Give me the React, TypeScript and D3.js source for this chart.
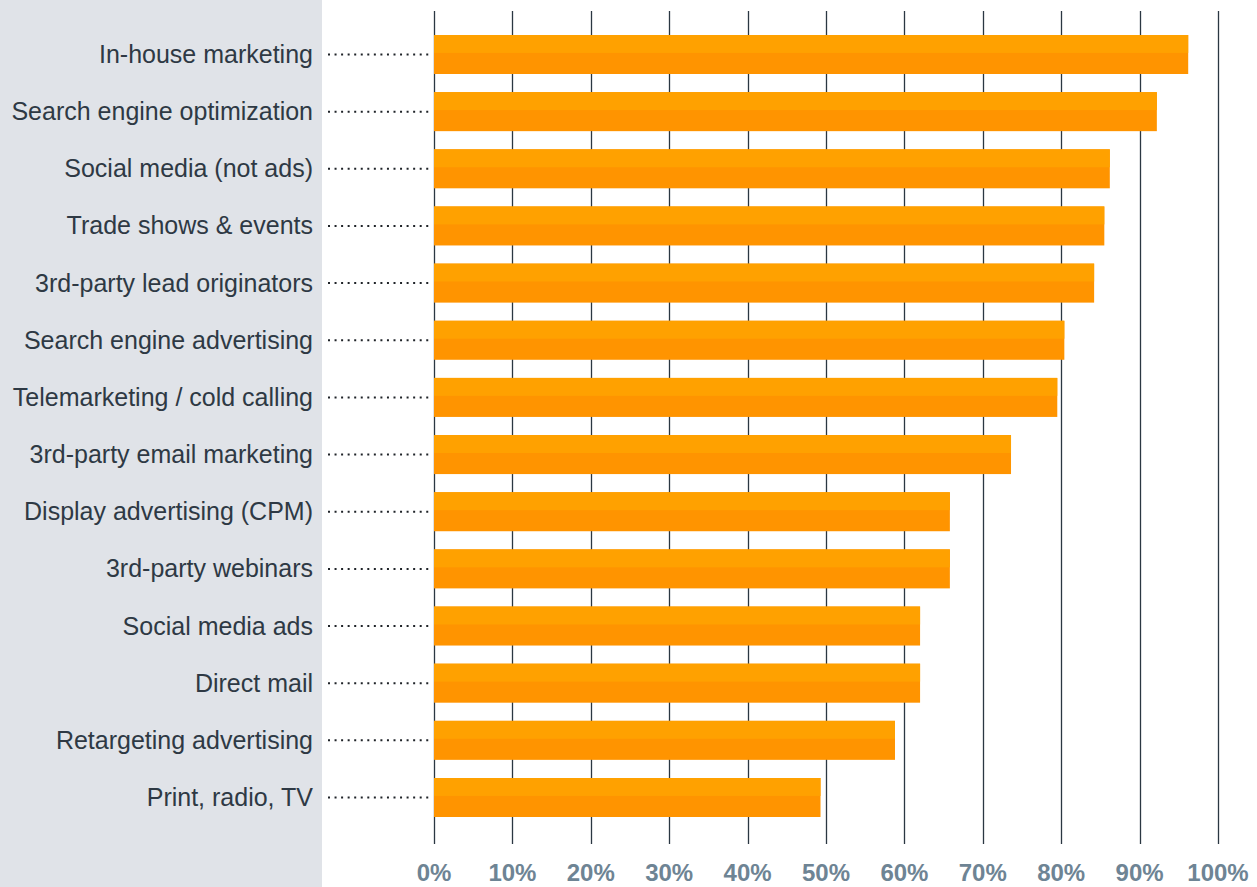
import React, { useEffect, useRef } from 'react';
import * as d3 from 'd3';

// Channels, top to bottom, and the share (%)
const channels = [
    'In-house marketing',
    'Search engine optimization',
    'Social media (not ads)',
    'Trade shows & events',
    '3rd-party lead originators',
    'Search engine advertising',
    'Telemarketing / cold calling',
    '3rd-party email marketing',
    'Display advertising (CPM)',
    '3rd-party webinars',
    'Social media ads',
    'Direct mail',
    'Retargeting advertising',
    'Print, radio, TV',
];
const shares = [96.2, 92.2, 86.2, 85.5, 84.2, 80.4, 79.5, 73.6, 65.8, 65.8, 62.0, 62.0, 58.8, 49.3];
const ticks = [0, 10, 20, 30, 40, 50, 60, 70, 80, 90, 100];

const WIDTH = 1257;
const HEIGHT = 887;
const PANEL_W = 322;

export default function App() {
    const svgRef = useRef<SVGSVGElement>(null);

    useEffect(() => {
        document.body.style.margin = '0';
        if (!svgRef.current) return;

        const svg = d3.select(svgRef.current);
        svg.selectAll('*').remove();

        const data = channels.map((name, i) => ({ name, value: shares[i] }));

        const x = d3.scaleLinear().domain([0, 100]).range([434, 1218]);
        const y = d3.scaleBand<string>()
            .domain(channels)
            .range([35, 817])
            .paddingInner(0.3176)
            .paddingOuter(0);

        // Left label panel
        svg.append('rect')
            .attr('x', 0)
            .attr('y', 0)
            .attr('width', PANEL_W)
            .attr('height', HEIGHT)
            .attr('fill', '#e0e3e8');

        // Grid lines
        svg.append('g')
            .selectAll('line')
            .data(ticks)
            .join('line')
            .attr('x1', d => Math.round(x(d)) + 0.5)
            .attr('x2', d => Math.round(x(d)) + 0.5)
            .attr('y1', 11)
            .attr('y2', 844)
            .attr('stroke', '#2b3742')
            .attr('stroke-width', 1.3);

        // Bars: darker base with lighter upper half
        const bars = svg.append('g')
            .selectAll('g')
            .data(data)
            .join('g');

        bars.append('rect')
            .attr('x', x(0))
            .attr('y', d => y(d.name)!)
            .attr('width', d => x(d.value) - x(0))
            .attr('height', y.bandwidth())
            .attr('fill', '#ff9400');

        bars.append('rect')
            .attr('x', x(0))
            .attr('y', d => y(d.name)!)
            .attr('width', d => x(d.value) - x(0))
            .attr('height', y.bandwidth() * 0.46)
            .attr('fill', '#ffa100');

        // Dotted leaders
        svg.append('g')
            .selectAll('line')
            .data(data)
            .join('line')
            .attr('x1', x(0) - 106)
            .attr('x2', x(0) - 4)
            .attr('y1', d => y(d.name)! + y.bandwidth() / 2)
            .attr('y2', d => y(d.name)! + y.bandwidth() / 2)
            .attr('stroke', '#1f2328')
            .attr('stroke-width', 2)
            .attr('stroke-dasharray', '2 4.55');

        // Category labels
        svg.append('g')
            .attr('font-family', '"Liberation Sans", Arial, sans-serif')
            .attr('font-size', 25)
            .attr('fill', '#2e3944')
            .attr('text-anchor', 'end')
            .selectAll('text')
            .data(data)
            .join('text')
            .attr('x', 313)
            .attr('y', d => y(d.name)! + y.bandwidth() / 2 + 8.5)
            .text(d => d.name);

        // Tick labels
        svg.append('g')
            .attr('font-family', '"Liberation Sans", Arial, sans-serif')
            .attr('font-size', 24)
            .attr('font-weight', 'bold')
            .attr('fill', '#6e8494')
            .attr('text-anchor', 'middle')
            .selectAll('text')
            .data(ticks)
            .join('text')
            .attr('x', d => x(d))
            .attr('y', 881)
            .text(d => `${d}%`);
    }, []);

    return (
        <svg
            ref={svgRef}
            width={WIDTH}
            height={HEIGHT}
            viewBox={`0 0 ${WIDTH} ${HEIGHT}`}
            style={{ display: 'block', background: '#ffffff' }}
        />
    );
}
